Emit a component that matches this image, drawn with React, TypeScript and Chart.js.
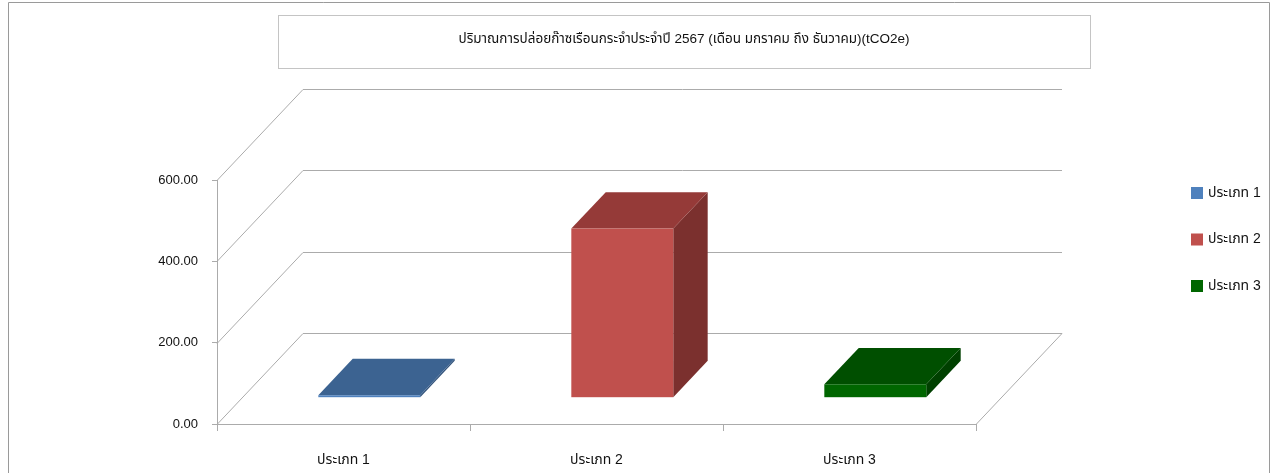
import React, { useEffect, useRef } from "react";
import { Chart, registerables } from "chart.js";

Chart.register(...registerables);

const TITLE = "ปริมาณการปล่อยก๊าซเรือนกระจำประจำปี 2567 (เดือน มกราคม ถึง ธันวาคม)(tCO2e)";
const categories = ["ประเภท 1", "ประเภท 2", "ประเภท 3"];
const values = [6, 416, 33];
const yTicks = [0, 200, 400, 600];

const frontColors = ["#4f81bd", "#c0504d", "#006600"];
const topColors = ["#3c6391", "#953a38", "#004f00"];
const sideColors = ["#33547c", "#7b302e", "#004000"];

const FONT = '"Liberation Sans", Arial, "Noto Sans Thai", sans-serif';
const GRID = "#ababab";
const DX = 86;
const DY = -91;

const threeD = {
  id: "threeD",
  beforeDatasetsDraw(chart: any) {
    const { ctx, chartArea } = chart;
    const ys = chart.scales.y;
    const L = chartArea.left;
    const R = chartArea.right;
    ctx.save();
    ctx.strokeStyle = GRID;
    ctx.lineWidth = 1;
    yTicks.forEach((v) => {
      const py = Math.round(ys.getPixelForValue(v)) + 0.5;
      ctx.beginPath();
      ctx.moveTo(L, py);
      ctx.lineTo(L + DX, py + DY);
      ctx.lineTo(R + DX, py + DY);
      if (v === 0) {
        ctx.moveTo(R, py);
        ctx.lineTo(R + DX, py + DY);
      }
      ctx.stroke();
    });
    ctx.restore();
  },
  beforeDatasetDraw() {
    return false;
  },
  afterDatasetsDraw(chart: any) {
    const { ctx } = chart;
    const meta = chart.getDatasetMeta(0);
    ctx.save();
    meta.data.forEach((el: any, i: number) => {
      const w = el.width;
      const fx = el.x - w / 2 + DX * 0.3;
      const ft = el.y + DY * 0.3 + 1;
      const fb = el.base + DY * 0.3 + 1;
      const ddx = DX * 0.4;
      const ddy = DY * 0.4;
      ctx.fillStyle = sideColors[i];
      ctx.beginPath();
      ctx.moveTo(fx + w, ft);
      ctx.lineTo(fx + w + ddx, ft + ddy);
      ctx.lineTo(fx + w + ddx, fb + ddy);
      ctx.lineTo(fx + w, fb);
      ctx.closePath();
      ctx.fill();
      ctx.fillStyle = topColors[i];
      ctx.beginPath();
      ctx.moveTo(fx, ft);
      ctx.lineTo(fx + ddx, ft + ddy);
      ctx.lineTo(fx + w + ddx, ft + ddy);
      ctx.lineTo(fx + w, ft);
      ctx.closePath();
      ctx.fill();
      ctx.fillStyle = frontColors[i];
      ctx.fillRect(fx, ft, w, Math.max(fb - ft, 1.5));
    });
    ctx.restore();
  },
  afterDraw(chart: any) {
    const { ctx } = chart;
    ctx.save();
    ctx.strokeStyle = "#9a9a9a";
    ctx.lineWidth = 1;
    ctx.beginPath();
    ctx.moveTo(8.5, 480);
    ctx.lineTo(8.5, 2.5);
    ctx.lineTo(1269.5, 2.5);
    ctx.lineTo(1269.5, 480);
    ctx.stroke();
    ctx.strokeStyle = "#c4c4c4";
    ctx.strokeRect(278.5, 15.5, 812, 53);
    ctx.fillStyle = "#111";
    ctx.font = `13.5px ${FONT}`;
    ctx.textAlign = "center";
    ctx.textBaseline = "middle";
    ctx.fillText(TITLE, 684, 39);
    ctx.textAlign = "left";
    ctx.font = `14px ${FONT}`;
    categories.forEach((c, i) => {
      const cy = 193 + i * 46.5;
      ctx.fillStyle = frontColors[i];
      ctx.fillRect(1191, cy - 6, 12, 12);
      ctx.fillStyle = "#111";
      ctx.fillText(c, 1208, cy);
    });
    ctx.restore();
  },
};

export default function App() {
  const ref = useRef<HTMLCanvasElement | null>(null);
  useEffect(() => {
    document.body.style.margin = "0";
    const canvas = ref.current!;
    const chart = new Chart(canvas, {
      type: "bar",
      data: {
        labels: categories,
        datasets: [
          {
            label: "tCO2e",
            data: values,
            backgroundColor: frontColors,
            categoryPercentage: 1,
            barPercentage: 0.403,
          },
        ],
      },
      options: {
        responsive: false,
        animation: false,
        devicePixelRatio: 1,
        layout: { padding: { left: 0, top: 180, right: 298, bottom: 0 } },
        plugins: {
          legend: { display: false },
          title: { display: false },
          tooltip: { enabled: false },
        },
        scales: {
          x: {
            afterFit: (s: any) => {
              s.height = 473 - 424;
            },
            grid: {
              offset: true,
              drawOnChartArea: false,
              drawTicks: true,
              tickLength: 7,
              tickColor: GRID,
            },
            border: { display: true, color: GRID },
            ticks: {
              padding: 21,
              color: "#111",
              font: { family: FONT, size: 14 },
              maxRotation: 0,
            },
          },
          y: {
            min: 0,
            max: 600,
            afterFit: (s: any) => {
              s.width = 217;
            },
            afterBuildTicks: (s: any) => {
              s.ticks = yTicks.map((v) => ({ value: v }));
            },
            grid: {
              drawOnChartArea: false,
              drawTicks: true,
              tickLength: 5,
              tickColor: GRID,
            },
            border: { display: true, color: GRID },
            ticks: {
              padding: 14,
              color: "#111",
              font: { family: FONT, size: 13 },
              callback: (v: any) => Number(v).toFixed(2),
            },
          },
        },
      },
      plugins: [threeD],
    });
    return () => chart.destroy();
  }, []);
  return (
    <canvas
      ref={ref}
      width={1274}
      height={473}
      style={{ display: "block", width: 1274, height: 473 }}
    />
  );
}
